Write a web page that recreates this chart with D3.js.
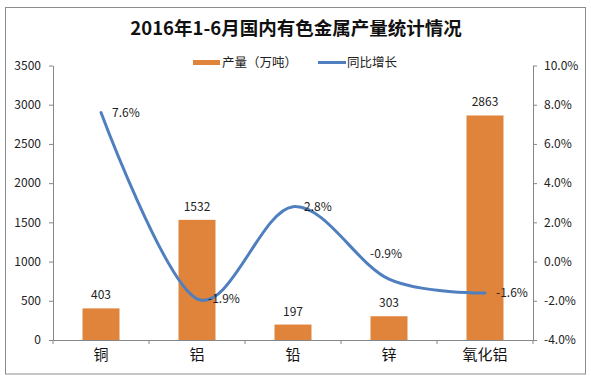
<!DOCTYPE html>
<html><head><meta charset="utf-8">
<script src="https://cdn.jsdelivr.net/npm/d3@7"></script>
<style>body{margin:0;background:#fff}svg{display:block}text{font-family:"Noto Sans CJK SC","Noto Sans",sans-serif}</style>
</head><body><svg id="c" width="591" height="380"></svg>
<script>
const title = "2016年1-6月国内有色金属产量统计情况";
const categories = ["铜","铝","铅","锌","氧化铝"];
const output = [403, 1532, 197, 303, 2863];
const growth = [7.6, -1.9, 2.8, -0.9, -1.6];
const leftTicks = [0,500,1000,1500,2000,2500,3000,3500];
const rightTicks = [-4,-2,0,2,4,6,8,10];
const seriesNames = ["产量（万吨）","同比增长"];
const growthLabelPos = ["right","right","right","above","right"];

const svg = d3.select("#c");
const x0=53, x1=533, y0=340, y1=65.5;
const barColor="#e0843c", lineColor="#4f7fbf", axisColor="#868686";

svg.append("rect").attr("x",5.5).attr("y",7.5).attr("width",580).attr("height",366.5)
  .attr("fill","#fff").attr("stroke","#8c8c8c").attr("stroke-width",1);

svg.append("text").attr("x",296).attr("y",35).attr("text-anchor","middle")
  .attr("font-size",18.5).attr("font-weight","bold").attr("fill","#111").text(title);

const x=d3.scaleBand().domain(categories).range([x0,x1]).paddingInner(0).paddingOuter(0);
const yL=d3.scaleLinear().domain([0,3500]).range([y0,y1]);
const yR=d3.scaleLinear().domain([-4,10]).range([y0,y1]);
const bw=37;

// bars
svg.append("g").selectAll("rect").data(output).join("rect")
  .attr("x",(d,i)=>x(categories[i])+x.bandwidth()/2-bw/2)
  .attr("y",d=>yL(d)).attr("width",bw).attr("height",d=>yL(0)-yL(d))
  .attr("fill",barColor);
svg.append("g").selectAll("text").data(output).join("text")
  .attr("x",(d,i)=>x(categories[i])+x.bandwidth()/2)
  .attr("y",d=>yL(d)-9).attr("text-anchor","middle").attr("font-size",12).attr("fill","#222")
  .text(d=>d);

// axes
const gL=svg.append("g").attr("transform",`translate(${x0},0)`)
  .call(d3.axisLeft(yL).tickValues(leftTicks).tickSize(4).tickPadding(8).tickSizeOuter(0)
  .tickFormat(d3.format("d")));
const gR=svg.append("g").attr("transform",`translate(${x1},0)`)
  .call(d3.axisRight(yR).tickValues(rightTicks).tickSize(4).tickPadding(7).tickSizeOuter(0)
  .tickFormat(d=>d.toFixed(1)+"%"));
const gB=svg.append("g").attr("transform",`translate(0,${y0})`)
  .call(d3.axisBottom(x).tickSize(0).tickPadding(9).tickSizeOuter(0));
gB.selectAll(".tick text").attr("font-size",15).attr("fill","#111");
// category separator ticks
svg.append("g").selectAll("line").data(d3.range(categories.length+1)).join("line")
  .attr("x1",i=>x0+i*x.bandwidth()).attr("x2",i=>x0+i*x.bandwidth())
  .attr("y1",y0).attr("y2",y0+4).attr("stroke",axisColor);
[gL,gR,gB].forEach(g=>{
  g.selectAll("path,line").attr("stroke",axisColor);
  g.selectAll("text").attr("font-family",'"Noto Sans CJK SC","Noto Sans",sans-serif');
});
gL.selectAll(".tick text").attr("font-size",12).attr("fill","#222");
gR.selectAll(".tick text").attr("font-size",12).attr("fill","#222");

// line
const pts=growth.map((v,i)=>[x(categories[i])+x.bandwidth()/2, yR(v)]);
svg.append("path").attr("d",d3.line().curve(d3.curveCatmullRom.alpha(0))(pts))
  .attr("fill","none").attr("stroke",lineColor).attr("stroke-width",3).attr("stroke-linecap","round");
svg.append("g").selectAll("text").data(growth).join("text")
  .attr("x",(d,i)=>growthLabelPos[i]==="right"?pts[i][0]+11:pts[i][0]-3)
  .attr("y",(d,i)=>growthLabelPos[i]==="right"?pts[i][1]+4:pts[i][1]-21)
  .attr("text-anchor",(d,i)=>growthLabelPos[i]==="right"?"start":"middle")
  .attr("font-size",12).attr("fill","#222")
  .text(d=>d.toFixed(1)+"%");

// legend
const lg=svg.append("g");
lg.append("rect").attr("x",193).attr("y",60).attr("width",27).attr("height",5).attr("fill",barColor);
lg.append("text").attr("x",222).attr("y",67).attr("font-size",12.5).attr("fill","#222").text(seriesNames[0]);
lg.append("line").attr("x1",318).attr("x2",346).attr("y1",62.5).attr("y2",62.5).attr("stroke",lineColor).attr("stroke-width",3);
lg.append("text").attr("x",347).attr("y",67).attr("font-size",12.5).attr("fill","#222").text(seriesNames[1]);
</script></body></html>
